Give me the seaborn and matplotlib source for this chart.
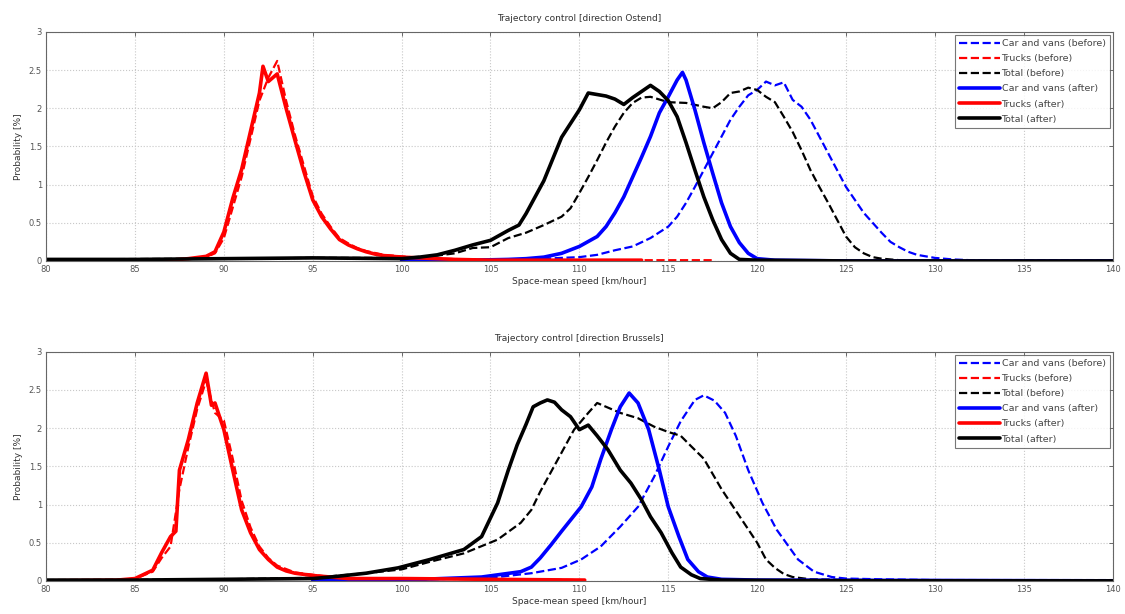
import matplotlib
matplotlib.use("Agg")
import matplotlib.pyplot as plt
import seaborn as sns

# ---- direction Ostend (top panel) ----
ost_cars_before_speed = [100, 104, 106, 108, 109, 110, 111, 112, 113, 114, 115, 115.5, 116, 116.5, 117,
                         117.5, 118, 118.5, 119, 119.5, 120, 120.5, 121, 121.5, 122, 122.5, 123, 123.5,
                         124, 124.5, 125, 125.5, 126, 126.5, 127, 127.5, 128, 128.5, 129, 130, 131, 132,
                         134, 137, 140]
ost_cars_before_prob = [0.0, 0.01, 0.02, 0.03, 0.04, 0.05, 0.08, 0.14, 0.19, 0.3, 0.45, 0.58, 0.76, 0.97, 1.19,
                        1.41, 1.63, 1.85, 2.02, 2.17, 2.24, 2.35, 2.3, 2.34, 2.11, 2.02, 1.85, 1.63,
                        1.41, 1.19, 0.97, 0.8, 0.63, 0.5, 0.37, 0.25, 0.18, 0.12, 0.08, 0.04, 0.02, 0.01,
                        0.01, 0.01, 0.0]

ost_trucks_before_speed = [80, 85, 87, 88, 89, 89.5, 90, 90.5, 91, 91.5, 92, 92.5, 93, 93.5, 94, 94.5, 95,
                           95.5, 96, 96.5, 97, 97.5, 98, 99, 100, 101, 102, 104, 108, 112, 117.5]
ost_trucks_before_prob = [0.0, 0.0, 0.01, 0.03, 0.05, 0.1, 0.3, 0.7, 1.1, 1.6, 2.1, 2.4, 2.62, 2.1, 1.65, 1.25, 0.85,
                          0.62, 0.45, 0.3, 0.23, 0.17, 0.13, 0.08, 0.06, 0.04, 0.03, 0.02, 0.01, 0.01, 0.01]

ost_total_before_speed = [80, 90, 95, 100, 102, 103, 104, 105, 106, 107, 108, 109, 109.5, 110, 110.5, 111,
                          111.5, 112, 112.5, 113, 113.5, 114, 115, 116, 117, 117.5, 118, 118.5, 119, 119.5,
                          120, 120.5, 121, 121.5, 122, 122.5, 123, 123.5, 124, 124.5, 125, 125.5, 126,
                          126.5, 127, 128, 130, 140]
ost_total_before_prob = [0.02, 0.03, 0.04, 0.04, 0.07, 0.1, 0.17, 0.18, 0.3, 0.37, 0.47, 0.58, 0.69, 0.89, 1.1, 1.32,
                         1.55, 1.76, 1.94, 2.07, 2.14, 2.15, 2.08, 2.07, 2.02, 2.0, 2.08, 2.2, 2.22, 2.27,
                         2.24, 2.15, 2.08, 1.89, 1.69, 1.45, 1.19, 0.97, 0.76, 0.54, 0.32, 0.18, 0.1,
                         0.05, 0.03, 0.01, 0.0, 0.0]

ost_cars_after_speed = [100, 104, 106, 107, 108, 109, 110, 111, 111.5, 112, 112.5, 113, 113.5, 114, 114.5,
                        115, 115.5, 115.8, 116, 116.5, 117, 117.5, 118, 118.5, 119, 119.5, 120, 121, 125, 140]
ost_cars_after_prob = [0.0, 0.01, 0.02, 0.03, 0.05, 0.1, 0.19, 0.32, 0.45, 0.63, 0.84, 1.1, 1.36, 1.63, 1.94,
                       2.15, 2.37, 2.47, 2.37, 1.98, 1.55, 1.15, 0.76, 0.45, 0.24, 0.1, 0.03, 0.01, 0.0, 0.0]

ost_trucks_after_speed = [80, 85, 87, 88, 89, 89.5, 90, 90.5, 91, 91.5, 92, 92.2, 92.5, 93, 93.5, 94, 94.5, 95,
                          95.5, 96, 96.5, 97, 97.5, 98, 98.5, 99, 100, 101, 102, 103, 105, 108, 113.5]
ost_trucks_after_prob = [0.0, 0.0, 0.01, 0.03, 0.06, 0.12, 0.38, 0.82, 1.2, 1.7, 2.2, 2.55, 2.35, 2.45, 2.0, 1.58, 1.17,
                         0.8, 0.58, 0.42, 0.28, 0.21, 0.16, 0.12, 0.09, 0.07, 0.05, 0.04, 0.03, 0.02, 0.01, 0.01, 0.01]

ost_total_after_speed = [80, 85, 90, 95, 100, 101, 102, 103, 104, 105, 106, 106.6, 107, 108, 109, 110, 110.5,
                         111, 111.5, 112, 112.5, 113, 113.5, 114, 114.5, 115, 115.5, 116, 116.5, 117, 117.5,
                         118, 118.5, 119, 120, 125, 140]
ost_total_after_prob = [0.02, 0.02, 0.03, 0.04, 0.03, 0.05, 0.08, 0.14, 0.21, 0.27, 0.4, 0.47, 0.62, 1.05, 1.62, 1.98, 2.2,
                        2.18, 2.16, 2.12, 2.05, 2.14, 2.22, 2.3, 2.22, 2.1, 1.89, 1.55, 1.19, 0.84, 0.54,
                        0.28, 0.1, 0.02, 0.01, 0.0, 0.0]

# ---- direction Brussels (bottom panel) ----
bru_cars_before_speed = [95, 100, 105, 107.3, 109, 110.1, 111.2, 112.3, 113.3, 114.2, 115, 115.7, 116.5, 117,
                         117.6, 118.2, 118.8, 119.5, 120.3, 121.1, 121.5, 122.3, 123.2, 124.2, 125, 127, 130,
                         135, 140]
bru_cars_before_prob = [0.0, 0.01, 0.04, 0.1, 0.17, 0.28, 0.45, 0.71, 0.97, 1.36, 1.76, 2.09, 2.37, 2.43,
                        2.36, 2.2, 1.9, 1.45, 1.02, 0.67, 0.54, 0.28, 0.12, 0.05, 0.03, 0.02, 0.01,
                        0.01, 0.01]

bru_trucks_before_speed = [80, 84, 85, 86, 86.5, 87, 87.5, 88, 88.5, 89, 89.5, 90, 90.5, 91, 91.5, 92, 92.5, 93,
                           94, 95, 96, 98, 100, 105, 110.5]
bru_trucks_before_prob = [0.0, 0.01, 0.03, 0.12, 0.3, 0.45, 1.2, 1.75, 2.25, 2.62, 2.2, 2.1, 1.6, 1.05, 0.7, 0.45, 0.3, 0.2,
                          0.11, 0.08, 0.05, 0.03, 0.03, 0.02, 0.01]

bru_total_before_speed = [80, 90, 95, 98, 100, 101.6, 103.5, 105.4, 106.7, 107.3, 107.8, 109, 109.7, 110.5, 111,
                          111.6, 112.3, 113.3, 114.2, 115, 115.7, 116.3, 117, 118, 119, 120, 120.5, 121, 121.5,
                          122, 123, 130, 140]
bru_total_before_prob = [0.01, 0.02, 0.04, 0.1, 0.15, 0.25, 0.36, 0.54, 0.76, 0.93, 1.17, 1.68, 1.98, 2.2, 2.33,
                         2.27, 2.2, 2.13, 2.02, 1.95, 1.9, 1.76, 1.6, 1.2, 0.85, 0.5, 0.28, 0.17, 0.09,
                         0.05, 0.02, 0.0, 0.0]

bru_cars_after_speed = [95, 100, 104.5, 106.7, 107.3, 107.8, 108.4, 109, 110.1, 110.7, 111.2, 111.8, 112.3, 112.8,
                        113.3, 113.9, 114.5, 115, 115.6, 116.1, 116.7, 117.2, 118, 120, 140]
bru_cars_after_prob = [0.0, 0.01, 0.05, 0.12, 0.18, 0.3, 0.47, 0.65, 0.97, 1.23, 1.59, 1.98, 2.28, 2.46,
                       2.33, 1.98, 1.45, 0.97, 0.58, 0.28, 0.12, 0.05, 0.02, 0.01, 0.0]

bru_trucks_after_speed = [80, 84, 85, 86, 86.5, 87, 87.3, 87.5, 88, 88.5, 89, 89.3, 89.5, 90, 90.5, 91, 91.5, 92,
                          92.5, 93, 93.5, 94, 95, 96, 97, 98, 100, 105, 110.3]
bru_trucks_after_prob = [0.0, 0.01, 0.03, 0.14, 0.37, 0.58, 0.65, 1.45, 1.85, 2.33, 2.72, 2.3, 2.33, 1.98, 1.45, 0.93, 0.63, 0.41,
                         0.28, 0.18, 0.13, 0.1, 0.07, 0.05, 0.03, 0.03, 0.03, 0.02, 0.01]

bru_total_after_speed = [80, 85, 90, 95, 96, 98, 99.8, 101.6, 103.5, 104.5, 105.4, 106, 106.5, 107, 107.4, 107.8,
                         108.2, 108.6, 109, 109.5, 110, 110.5, 111, 111.6, 112.3, 112.9, 113.5, 114, 114.6,
                         115.2, 115.7, 116.3, 116.8, 118, 125, 140]
bru_total_after_prob = [0.01, 0.01, 0.02, 0.03, 0.05, 0.1, 0.17, 0.28, 0.41, 0.58, 1.02, 1.45, 1.78, 2.05, 2.28, 2.33,
                        2.37, 2.34, 2.24, 2.15, 1.98, 2.04, 1.9, 1.72, 1.45, 1.28, 1.06, 0.84, 0.63,
                        0.37, 0.18, 0.08, 0.03, 0.01, 0.0, 0.0]

labels = ["Car and vans (before)", "Trucks (before)", "Total (before)",
          "Car and vans (after)", "Trucks (after)", "Total (after)"]
colors = ["#0000ff", "#ff0000", "#000000", "#0000ff", "#ff0000", "#000000"]
x_ticks = list(range(80, 141, 5))
y_ticks = [0, 0.5, 1, 1.5, 2, 2.5, 3]

panels = [
    ("Trajectory control [direction Ostend]",
     [(ost_cars_before_speed, ost_cars_before_prob), (ost_trucks_before_speed, ost_trucks_before_prob),
      (ost_total_before_speed, ost_total_before_prob), (ost_cars_after_speed, ost_cars_after_prob),
      (ost_trucks_after_speed, ost_trucks_after_prob), (ost_total_after_speed, ost_total_after_prob)]),
    ("Trajectory control [direction Brussels]",
     [(bru_cars_before_speed, bru_cars_before_prob), (bru_trucks_before_speed, bru_trucks_before_prob),
      (bru_total_before_speed, bru_total_before_prob), (bru_cars_after_speed, bru_cars_after_prob),
      (bru_trucks_after_speed, bru_trucks_after_prob), (bru_total_after_speed, bru_total_after_prob)]),
]

sns.set_theme(style="white")
plt.rcParams['font.family'] = ['DejaVu Sans']

fig = plt.figure(figsize=(11.25, 6.14), dpi=100)
axes = [fig.add_axes([0.041, 0.575, 0.948, 0.373]),
        fig.add_axes([0.041, 0.054, 0.948, 0.373])]

for ax, (title, series) in zip(axes, panels):
    for i, (speed, prob) in enumerate(series):
        before = i < 3
        sns.lineplot(x=speed, y=prob, ax=ax, color=colors[i], estimator=None, sort=False,
                     linestyle="--" if before else "-", linewidth=1.6 if before else 2.6,
                     dashes=(3, 1.5) if before else None, label=labels[i])
    ax.set_xlim(80, 140)
    ax.set_ylim(0, 3)
    ax.set_xticks(x_ticks)
    ax.set_yticks(y_ticks)
    ax.set_yticklabels(["0", "0.5", "1", "1.5", "2", "2.5", "3"])
    ax.grid(True, linestyle=":", color="#c8c8c8", linewidth=0.8)
    ax.tick_params(direction="in", length=3, width=0.6, top=True, right=True,
                   labelsize=6, colors="#555555", pad=3)
    for sp in ax.spines.values():
        sp.set_color("#666666")
        sp.set_linewidth(0.8)
    ax.set_title(title, fontsize=6.5, color="#333333", pad=8)
    ax.set_xlabel("Space-mean speed [km/hour]", fontsize=6.5, color="#333333", labelpad=2)
    ax.set_ylabel("Probability [%]", fontsize=6.5, color="#333333", labelpad=4)
    leg = ax.legend(loc="upper right", fontsize=6.8, frameon=True, fancybox=False,
                    handlelength=4.3, handletextpad=0.2, labelspacing=0.65,
                    borderaxespad=0.3, borderpad=0.45)
    leg.get_frame().set_edgecolor("#555555")
    leg.get_frame().set_linewidth(0.8)
    for t in leg.get_texts():
        t.set_color("#444444")

fig.savefig("out.png", dpi=100, facecolor="white")
